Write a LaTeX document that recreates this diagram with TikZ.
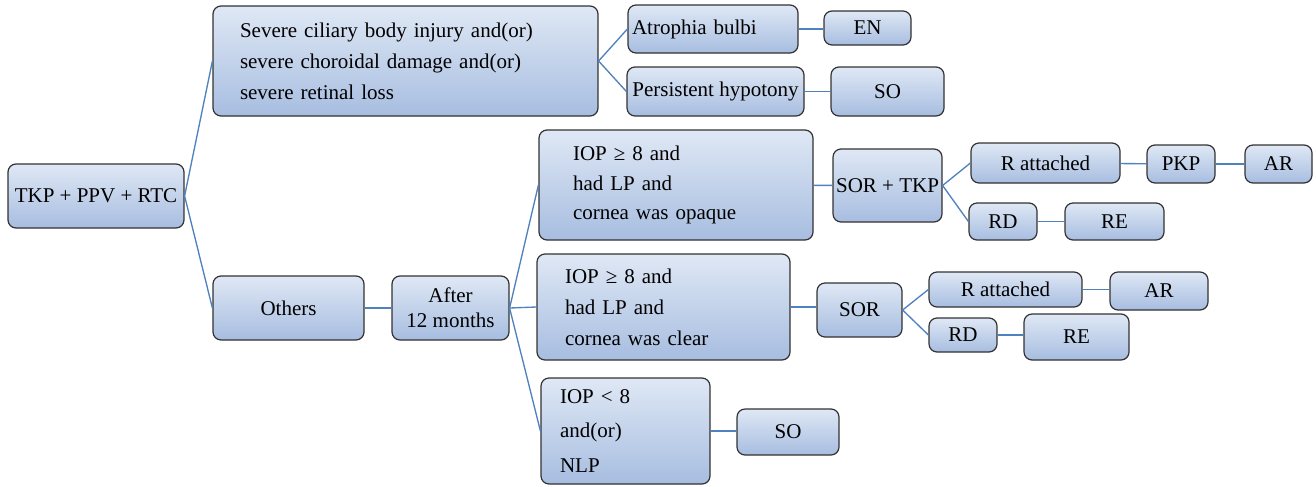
\documentclass[tikz,border=0pt]{standalone}
\usepackage{fontspec}
\setmainfont{Liberation Serif}
\usepackage{tikz}

\definecolor{boxtop}{RGB}{223,232,245}
\definecolor{boxbot}{RGB}{167,189,224}
\definecolor{edgegray}{RGB}{50,50,50}
\definecolor{linkblue}{RGB}{79,129,189}

\tikzset{
  box/.style={draw=edgegray, line width=0.9pt, rounded corners=6pt,
    top color=boxtop, bottom color=boxbot, inner sep=2pt,
    font=\fontsize{15.75}{23.25}\selectfont},
  boxsize/.style 2 args={minimum width=#1, minimum height=#2},
  link/.style={draw=linkblue, line width=1pt},
}

\begin{document}
\begin{tikzpicture}[x=0.75pt,y=0.75pt,yscale=-1,xscale=1]
\useasboundingbox (0,0) rectangle (1316,486);

%Shape: Root
\node[box, boxsize={132pt}{48pt}] (root) at (96,196) {TKP + PPV + RTC};

%Shape: Severe damage branch
\node[box, align=left, text width=248.25pt, inner xsep=20.25pt, minimum height=82.5pt] (severe) at (405.5,61)
  {Severe ciliary body injury and(or)\\ severe choroidal damage and(or)\\ severe retinal loss};
\node[box, align=left, text width=121.5pt, inner xsep=3pt, minimum height=36pt] (atrophy) at (713,29) {Atrophia bulbi};
\node[box, boxsize={65.25pt}{25.5pt}] (en) at (867.5,28) {EN};
\node[box, boxsize={132.75pt}{36.75pt}] (hypotony) at (715.5,91.5) {Persistent hypotony};
\node[box, boxsize={84.75pt}{36.75pt}] (soTop) at (887.5,91.5) {SO};

%Shape: Others branch
\node[box, boxsize={113.25pt}{48pt}] (others) at (288.5,308) {Others};
\node[box, boxsize={87.75pt}{48pt}, align=center, font=\fontsize{15.75}{19}\selectfont] (after) at (450.5,308) {After\\ 12 months};

%Shape: Opaque cornea
\node[box, align=left, text width=154.5pt, inner xsep=25.5pt, minimum height=82.5pt, font=\fontsize{15.75}{22}\selectfont] (iopOpaque) at (676,185)
  {IOP ≥ 8 and\\ had LP and\\ cornea was opaque};
\node[box, boxsize={81.75pt}{54.75pt}] (sortkp) at (887.5,185.5) {SOR + TKP};
\node[box, boxsize={111.75pt}{30pt}] (rattA) at (1045.5,163) {R attached};
\node[box, boxsize={51pt}{28.5pt}] (pkp) at (1181,164) {PKP};
\node[box, boxsize={50.25pt}{28.5pt}] (arA) at (1278.5,164) {AR};
\node[box, boxsize={51pt}{27.75pt}] (rdA) at (1003,221.5) {RD};
\node[box, boxsize={74.25pt}{27.75pt}] (reA) at (1114.5,221.5) {RE};

%Shape: Clear cornea
\node[box, align=left, text width=147.75pt, inner xsep=21pt, minimum height=79.5pt] (iopClear) at (663.5,307)
  {IOP ≥ 8 and\\ had LP and\\ cornea was clear};
\node[box, boxsize={63.75pt}{40.5pt}] (sor) at (859.5,310) {SOR};
\node[box, boxsize={114.75pt}{26.25pt}] (rattB) at (1005.5,289.5) {R attached};
\node[box, boxsize={73.5pt}{28.5pt}] (arB) at (1159,291) {AR};
\node[box, boxsize={51pt}{25.5pt}] (rdB) at (963,335) {RD};
\node[box, boxsize={78.75pt}{34.5pt}] (reB) at (1076.5,337) {RE};

%Shape: Low IOP
\node[box, align=left, text width=98.25pt, inner xsep=14.25pt, minimum height=79.5pt, font=\fontsize{15.75}{26}\selectfont] (iopLow) at (625.5,431)
  {IOP < 8\\ and(or)\\ NLP};
\node[box, boxsize={76.5pt}{34.5pt}] (soLow) at (788,432) {SO};

%Straight Lines
\draw[link] (root.east) -- (severe.west);
\draw[link] (root.east) -- (others.west);
\draw[link] (severe.east) -- (atrophy.west);
\draw[link] (severe.east) -- (hypotony.west);
\draw[link] (atrophy.east) -- (atrophy.east -| en.west);
\draw[link] (hypotony) -- (soTop);
\draw[link] (others) -- (after);
\draw[link] (after.east) -- (iopOpaque.west);
\draw[link] (after.east) -- (iopClear.west);
\draw[link] (after.east) -- (iopLow.west);
\draw[link] (iopOpaque) -- (sortkp);
\draw[link] (sortkp.east) -- (rattA.west);
\draw[link] (sortkp.east) -- (rdA.west);
\draw[link] (rattA) -- (pkp);
\draw[link] (pkp) -- (arA);
\draw[link] (rdA) -- (reA);
\draw[link] (iopClear.east) -- (iopClear.east -| sor.west);
\draw[link] (sor.east) -- (rattB.west);
\draw[link] (sor.east) -- (rdB.west);
\draw[link] (rattB.east) -- (rattB.east -| arB.west);
\draw[link] (rdB.east) -- (rdB.east -| reB.west);
\draw[link] (iopLow.east) -- (iopLow.east -| soLow.west);

\end{tikzpicture}
\end{document}
